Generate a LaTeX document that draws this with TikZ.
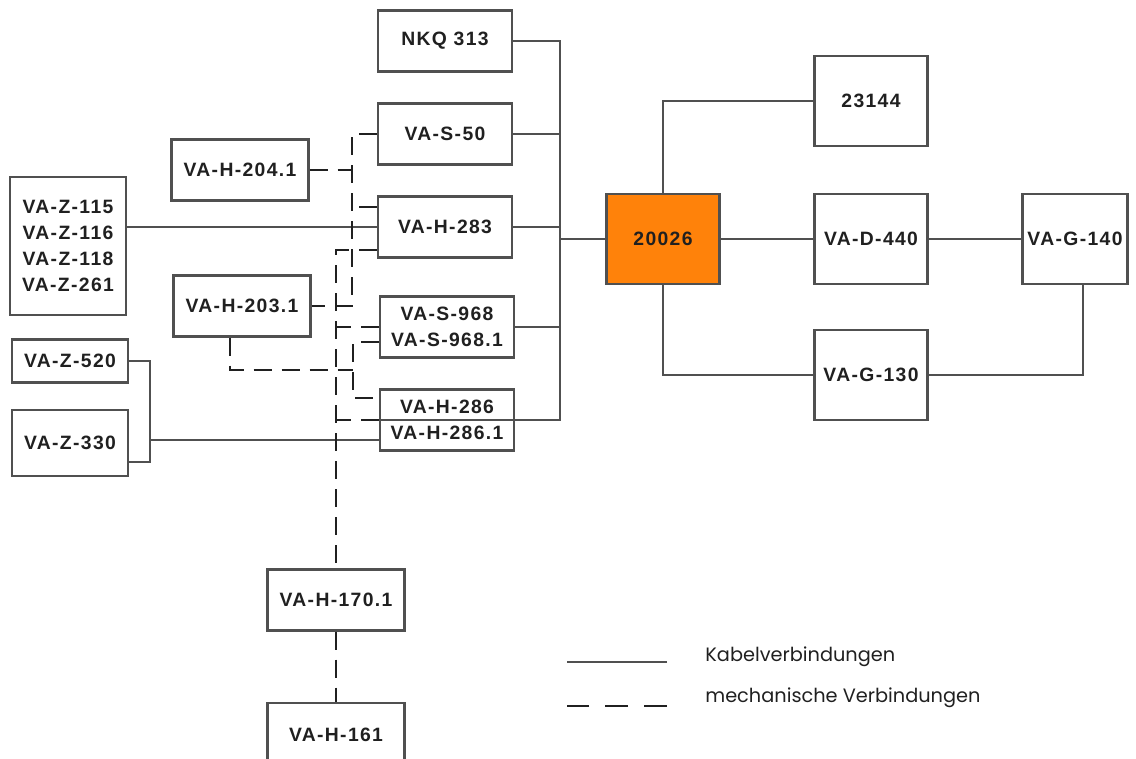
\documentclass[tikz,border=0pt]{standalone}
\usepackage{fontspec}
\setmainfont{Liberation Sans}
\newfontfamily\boxfont[LetterSpace=7]{Liberation Sans}
\newfontfamily\legendfont{Poppins}
\definecolor{ink}{RGB}{32,32,32}
\definecolor{wire}{RGB}{80,80,80}
\definecolor{signal}{RGB}{255,130,10}

\begin{document}
\begin{tikzpicture}[x=0.02cm,y=-0.02cm,
  unit/.style={draw=wire,line width=1.4pt,fill=white,text=ink,align=center,
               inner sep=0pt,font=\boxfont\bfseries\fontsize{11}{14.7}\selectfont,
               minimum width=2.68cm,minimum height=1.22cm},
  wide/.style={unit,minimum width=2.74cm},
  small/.style={unit,minimum width=2.32cm},
  square/.style={unit,minimum width=2.26cm,minimum height=1.8cm},
  hub/.style={square,fill=signal},
  cable/.style={draw=wire,line width=1.1pt},
  mech/.style={draw=ink,line width=1.3pt,dash pattern=on 0.36cm off 0.2cm},
  lgd/.style={font=\legendfont\fontsize{11}{13}\selectfont,text=ink,
              anchor=base west,inner sep=0pt}]

  \useasboundingbox (0,0) rectangle (1136,759);

  % middle column
  \node[unit] (nkq)    at (445,41)  {NKQ 313};
  \node[unit] (vas50)  at (445,134) {VA-S-50};
  \node[unit] (vah283) at (445,227) {VA-H-283};
  \node[unit] (vas968) at (447,327) {VA-S-968\\VA-S-968.1};
  \node[unit] (vah286) at (447,420) {VA-H-286\\VA-H-286.1};

  % left side
  \node[wide] (vah204) at (240,170) {VA-H-204.1};
  \node[wide] (vah203) at (242,306) {VA-H-203.1};
  \node[small,minimum height=2.76cm] (vaz) at (68,246)
       {VA-Z-115\\VA-Z-116\\VA-Z-118\\VA-Z-261};
  \node[small,minimum height=0.86cm] (vaz520) at (70,361) {VA-Z-520};
  \node[small,minimum height=1.32cm] (vaz330) at (70,443) {VA-Z-330};
  \node[wide] (vah170) at (336,600) {VA-H-170.1};
  \node[wide,minimum height=1.28cm] (vah161) at (336,735) {VA-H-161};

  % right side
  \node[hub]    (core)   at (663,239)  {20026};
  \node[square] (n23144) at (871,101)  {23144};
  \node[square] (vad440) at (871,239)  {VA-D-440};
  \node[square,minimum width=2.1cm] (vag140) at (1075,239) {VA-G-140};
  \node[square] (vag130) at (871,375)  {VA-G-130};

  \coordinate (bus)  at (560,242);
  \coordinate (zbus) at (150,462);
  \coordinate (h286low) at ([yshift=-0.4cm]vah286.west);

  % Kabelverbindungen
  \draw[cable] (nkq.east) -| (bus |- vah286.west) -- (vah286.west);
  \draw[cable] (vas50.east) -- (vas50.east -| bus);
  \draw[cable] (vah283.east) -- (vah283.east -| bus);
  \draw[cable] (vas968.east) -- (vas968.east -| bus);
  \draw[cable] (core.west -| bus) -- (core.west);
  \draw[cable] (vaz.east |- vah283.west) -- (vah283.west);
  \draw[cable] (vaz520.east) -| (zbus) -- (zbus -| vaz330.east);
  \draw[cable] (zbus |- h286low) -- (h286low);
  \draw[cable] (core.north) |- (n23144.west);
  \draw[cable] (core.east) -- (vad440.west);
  \draw[cable] (vad440.east) -- (vag140.west);
  \draw[cable] (core.south) |- (vag130.west);
  \draw[cable] (vag130.east) -| ([xshift=0.16cm]vag140.south);

  % mechanische Verbindungen
  \coordinate (ma) at (352,250);
  \coordinate (mc) at (353,370);
  \coordinate (h283a) at ([yshift=0.4cm]vah283.west);
  \coordinate (h283b) at ([yshift=-0.46cm]vah283.west);
  \coordinate (s968b) at ([yshift=-0.3cm]vas968.west);
  \coordinate (h286a) at ([yshift=0.44cm]vah286.west);
  \draw[mech] (vas50.west) -| (ma) |- (vah203.east);
  \draw[mech] (vah204.east) -- (vah204.east -| ma);
  \draw[mech] (h283a) -- (h283a -| ma);
  \draw[mech] (h283b) -| (vah170.north);
  \draw[mech] (vas968.west) -- (vas968.west -| vah170.north);
  \draw[mech] (vah286.west) -- (vah286.west -| vah170.north);
  \draw[mech] (s968b) -| (mc) |- (h286a);
  \draw[mech] ([xshift=-0.24cm]vah203.south) |- (mc);
  \draw[mech] (vah170.south) -- (vah161.north);

  % legend
  \node[lgd] (kabel) at (705,662) {Kabelverbindungen};
  \node[lgd] (mechan) at (705,703) {mechanische Verbindungen};
  \draw[cable] ([xshift=-0.76cm]kabel.base west) -- ++(-100,0);
  \draw[mech,dash pattern=on 0.46cm off 0.32cm]
       ([xshift=-0.76cm,yshift=-0.06cm]mechan.base west) -- ++(-100,0);
\end{tikzpicture}
\end{document}
